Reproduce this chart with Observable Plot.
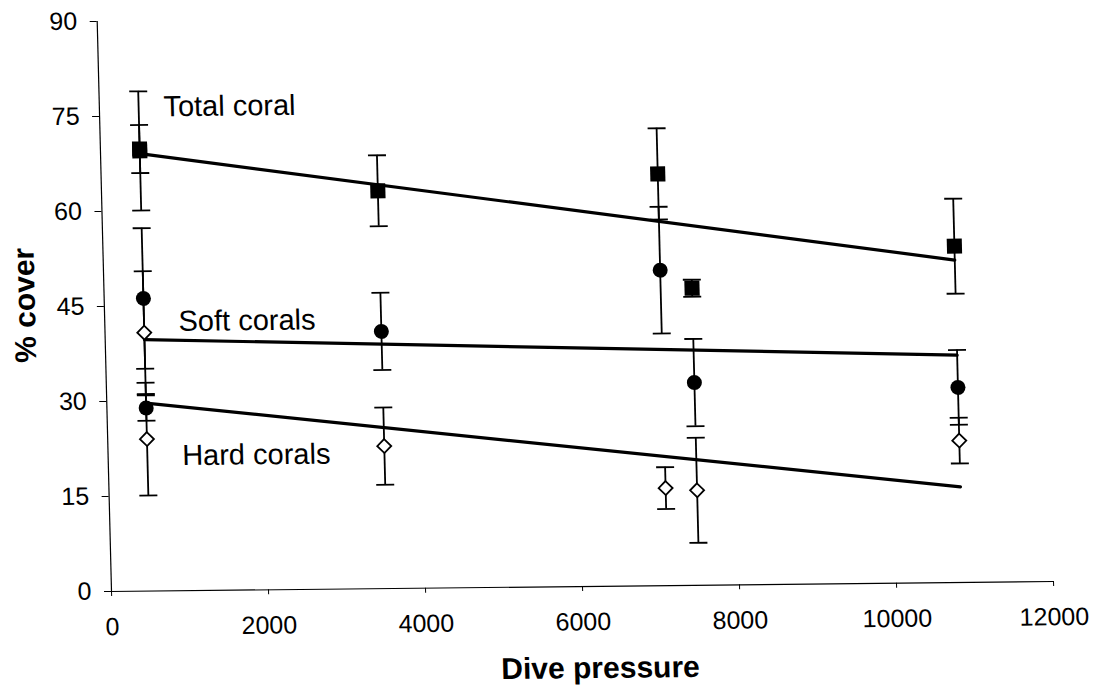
<!DOCTYPE html>
<html>
<head>
<meta charset="utf-8">
<script src="https://cdn.jsdelivr.net/npm/d3@7"></script>
<script src="https://cdn.jsdelivr.net/npm/@observablehq/plot@0.6"></script>
<style>
  html, body { margin: 0; padding: 0; background: #fff; overflow: hidden; }
  #chart svg {
    display: block;
    /* reproduce the slight shear of the scanned original */
    transform-origin: 111px 591px;
    transform: matrix(1, -0.0106, 0.0251, 1, 0, 0);
  }
</style>
</head>
<body>
<div id="chart"></div>
<script>
// ---- data ----
const divePressure = [500, 500, 3520, 7090, 7490, 10845];
const totalCover = [69.5, 69.8, 62.8, 65.0, 46.9, 53.1];
const totalErr   = [9.4, 3.8, 5.6, 7.2, 1.35, 7.5];
const softCover  = [46.2, 28.9, 40.6, 49.8, 32.0, 30.8];
const softErr    = [11.1, 2.0, 6.1, 10.0, 6.9, 5.9];
const hardCover  = [24.0, 40.8, 22.5, 15.4, 15.0, 22.4];
const hardErr    = [8.9, 9.7, 6.1, 3.3, 8.3, 3.6];

const seriesNames = ["Total coral", "Soft corals", "Hard corals"];
const labelX = [816, 940, 943];
const labelY = [76.4, 42.5, 21.3];

const xTicks = [0, 2000, 4000, 6000, 8000, 10000, 12000];
const yTicks = [0, 15, 30, 45, 60, 75, 90];
const xTitle = "Dive pressure";
const yTitle = "% cover";

// ---- build tables ----
const seriesValues = [totalCover, softCover, hardCover];
const seriesErrors = [totalErr, softErr, hardErr];
const rows = [];
seriesNames.forEach((name, s) => {
  divePressure.forEach((x, i) => {
    rows.push({series: name, x, y: seriesValues[s][i], err: seriesErrors[s][i]});
  });
});
const labels = seriesNames.map((n, i) => ({text: n, x: labelX[i], y: labelY[i]}));
const bySeries = (n) => rows.filter(d => d.series === n);

const capSymbol = {
  draw(context) { context.moveTo(-9, 0); context.lineTo(9, 0); }
};

const chart = Plot.plot({
  width: 1096,
  height: 687,
  marginLeft: 111,
  marginRight: 43,
  marginTop: 21,
  marginBottom: 96,
  style: {fontFamily: "'Liberation Sans', Arial, sans-serif", color: "#000", background: "#fff", overflow: "visible"},
  x: {domain: [0, 12000]},
  y: {domain: [0, 90]},
  marks: [
    Plot.axisX({ticks: xTicks, tickSize: 5, tickPadding: 21, fontSize: 25, label: null, tickFormat: d => String(d)}),
    Plot.axisY({ticks: yTicks, tickSize: 7, tickPadding: 13, fontSize: 25, label: null}),
    Plot.ruleX([0], {y1: 0, y2: 90, stroke: "#000", strokeWidth: 1.2}),
    Plot.ruleY([0], {stroke: "#000", strokeWidth: 1.2}),
    Plot.linearRegressionY(rows, {x: "x", y: "y", z: "series", stroke: "#000", strokeWidth: 3.2, ci: 0}),
    Plot.ruleX(rows, {x: "x", y1: d => d.y - d.err, y2: d => d.y + d.err, stroke: "#000", strokeWidth: 1.8}),
    Plot.dot(rows, {x: "x", y: d => d.y + d.err, symbol: capSymbol, fill: "none", stroke: "#000", strokeWidth: 1.8}),
    Plot.dot(rows, {x: "x", y: d => d.y - d.err, symbol: capSymbol, fill: "none", stroke: "#000", strokeWidth: 1.8}),
    Plot.dot(bySeries("Total coral"), {x: "x", y: "y", symbol: "square", r: 8.5, fill: "#000", stroke: "none"}),
    Plot.dot(bySeries("Soft corals"), {x: "x", y: "y", symbol: "circle", r: 7.5, fill: "#000", stroke: "none"}),
    Plot.dot(bySeries("Hard corals"), {x: "x", y: "y", symbol: "diamond2", r: 6.3, fill: "#fff", stroke: "#000", strokeWidth: 1.8}),
    Plot.text(labels, {x: "x", y: "y", text: "text", textAnchor: "start", lineAnchor: "middle", fontSize: 29}),
    Plot.text([yTitle], {frameAnchor: "left", dx: -79, dy: -2, rotate: -90, textAnchor: "middle", lineAnchor: "middle", fontSize: 30, fontWeight: "bold"}),
    Plot.text([xTitle], {frameAnchor: "bottom", dx: 16, dy: 82, textAnchor: "middle", lineAnchor: "middle", fontSize: 30, fontWeight: "bold"})
  ]
});
document.getElementById("chart").appendChild(chart);
</script>
</body>
</html>
